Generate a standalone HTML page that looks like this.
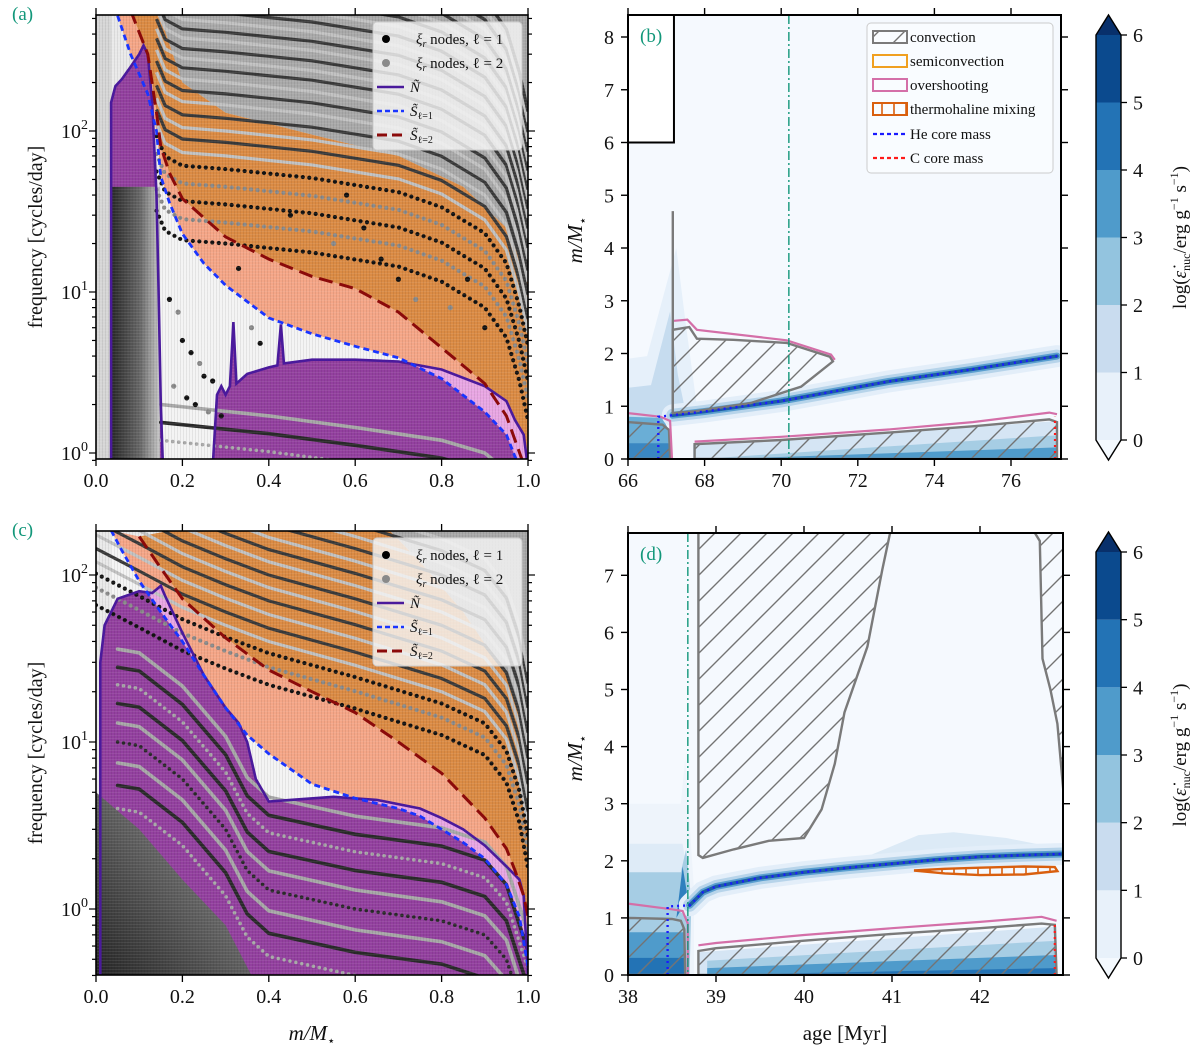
<!DOCTYPE html>
<html><head><meta charset="utf-8">
<style>body{margin:0;background:#fff}svg{display:block}text{font-family:"Liberation Serif","DejaVu Serif",serif;fill:#111}</style>
</head><body>
<svg id="fig" width="1200" height="1050" viewBox="0 0 1200 1050">
<defs>
<pattern id="hatch" patternUnits="userSpaceOnUse" width="26" height="26"><path d="M0,26L26,0M-6.5,6.5L6.5,-6.5M19.5,32.5L32.5,19.5" stroke="#737373" stroke-width="1.4"/></pattern>
<pattern id="thermo" patternUnits="userSpaceOnUse" width="12" height="40"><path d="M6,0V40" stroke="#d95f0e" stroke-width="1.6"/></pattern>
<pattern id="stripes" patternUnits="userSpaceOnUse" width="3" height="3"><rect x="0" y="0" width="1" height="3" fill="rgba(0,0,0,0.07)"/><rect x="0" y="0" width="3" height="0.6" fill="rgba(255,255,255,0.12)"/></pattern>
<linearGradient id="leftStrip" x1="0" x2="1" y1="0" y2="0"><stop offset="0" stop-color="#2a2a2a"/><stop offset="0.6" stop-color="#6a6a6a"/><stop offset="1" stop-color="#c8c8c8"/></linearGradient>
<linearGradient id="darkCorner" x1="0" x2="1" y1="1" y2="0"><stop offset="0" stop-color="#262626"/><stop offset="1" stop-color="#9a9a9a"/></linearGradient>
</defs>
</svg>
<script>
// ---------- Panel (a) data: [m/M, frequency] ----------
const aS1 = [[0.05,520],[0.08,300],[0.12,170],[0.14,100],[0.15,52],[0.17,36],[0.2,23],[0.25,15],[0.3,11],[0.4,6.9],[0.5,5.5],[0.6,4.6],[0.7,3.9],[0.8,2.9],[0.9,1.8],[0.95,1.3],[0.97,0.95],[0.985,0.8]];
const aS2 = [[0.08,560],[0.12,300],[0.14,130],[0.15,80],[0.17,55],[0.2,38],[0.3,22],[0.4,16],[0.5,12.5],[0.6,10.5],[0.7,7.5],[0.8,4.5],[0.9,2.7],[0.95,1.7],[0.99,0.85]];
const aNleft = [[0.035,0.8],[0.035,150],[0.045,190],[0.06,210],[0.08,250],[0.1,300],[0.11,340],[0.12,300],[0.13,150],[0.14,40],[0.145,10],[0.15,2],[0.155,0.8]];
const aNright = [[0.27,0.8],[0.28,2.3],[0.29,2.6],[0.3,2.3],[0.31,2.6],[0.318,6.5],[0.325,2.7],[0.35,3.1],[0.4,3.4],[0.42,3.5],[0.428,6.3],[0.435,3.6],[0.5,3.8],[0.6,3.8],[0.7,3.7],[0.8,3.3],[0.9,2.6],[0.95,2.1],[0.97,1.6],[0.99,1.3],[1.0,0.8]];
const aOrangeTop = [[0.14,600],[0.2,200],[0.3,130],[0.5,95],[0.7,70],[0.85,45],[0.95,25],[1.0,12]];
const aModeShape = [[0.14,1.6],[0.16,1.2],[0.2,1.05],[0.3,1.0],[0.5,0.88],[0.7,0.72],[0.8,0.58],[0.9,0.4],[0.95,0.26],[0.98,0.14],[1.0,0.08]];
const aModeLevels = [70,85,100,120,145,170,200,235,270,310,360,410,470,540,620,710,810,930,1070,1230,1420,1650];
const aNodeLevels = [20,27,35,45,58];
const aLowShape = [[0.15,1.0],[0.4,0.85],[0.6,0.72],[0.8,0.6],[0.9,0.5],[1.0,0.3]];
const aLowLevels = [1.2,1.55,2.0];
const aDotsX = [0.17,0.19,0.2,0.22,0.24,0.25,0.27,0.18,0.21,0.23,0.26,0.29,0.33,0.36,0.38,0.45,0.55,0.62,0.7,0.74,0.58,0.66,0.82,0.86,0.9];
const aDotsF = [9,7.5,5,4.2,3.6,3.0,2.8,2.6,2.2,2.0,1.8,1.7,14,6,4.8,30,20,25,12,9,40,16,8,12,6];

// ---------- Panel (c) data ----------
const cS1 = [[0.035,185],[0.06,140],[0.1,92],[0.15,60],[0.2,40],[0.25,25],[0.3,16],[0.35,11],[0.4,8.5],[0.5,5.6],[0.6,4.6],[0.7,4.0],[0.75,3.6],[0.8,3.0],[0.85,2.5],[0.9,2.0],[0.95,1.4],[0.98,0.9],[1.0,0.45]];
const cS2 = [[0.1,170],[0.15,110],[0.2,72],[0.3,42],[0.4,27],[0.5,20],[0.6,15],[0.7,10],[0.8,6.5],[0.9,3.5],[0.95,2.3],[0.97,1.7],[0.99,1.2],[1.0,0.9]];
const cN = [[0.01,0.4],[0.01,30],[0.02,50],[0.05,72],[0.1,80],[0.13,78],[0.15,86],[0.16,75],[0.2,45],[0.25,25],[0.3,16],[0.33,13],[0.35,10],[0.37,6],[0.4,4.4],[0.45,4.5],[0.55,4.7],[0.65,4.5],[0.75,4.0],[0.8,3.5],[0.85,3.0],[0.9,2.4],[0.95,1.8],[0.98,1.5],[0.99,1.2],[1.0,0.4]];
const cOrangeTop = [[0.04,300],[0.6,300],[0.75,120],[0.85,60],[0.95,25],[1.0,12]];
const cModeShape = [[0.0,3.0],[0.1,2.2],[0.2,1.6],[0.3,1.25],[0.4,1.0],[0.6,0.72],[0.8,0.5],[0.9,0.38],[0.95,0.26],[0.98,0.15],[1.0,0.08]];
const cModeLevels = [40,48,58,70,84,100,120,142,168,200,236,280,330];
const cNodeLevels = [22,28,34];
const cInShape = [[0.05,1.0],[0.1,0.95],[0.2,0.6],[0.3,0.3],[0.35,0.17],[0.4,0.13],[0.6,0.1],[0.8,0.085],[0.9,0.07],[0.95,0.05],[1.0,0.02]];
const cInLevels = [4,5.5,7.5,10,13,17,22,28,36];
const cDark = [[0,0.4],[0,5],[0.1,3],[0.2,1.5],[0.3,0.8],[0.36,0.4]];

// ---------- Panel (b) data: [age Myr, m/M] ----------
const bConvBlob = [[67.17,0.87],[67.17,2.45],[67.6,2.5],[67.8,2.28],[68.75,2.26],[70.14,2.2],[71.27,1.94],[71.35,1.85],[70.52,1.37],[69.2,1.06],[67.7,0.9]];
const bOverBlob = [[67.2,2.62],[67.55,2.64],[67.8,2.45],[70.14,2.25],[71.3,1.98],[71.4,1.88]];
const bSpike = [[67.17,0.87],[67.17,4.7]];
const bConvCore0 = [[66,0],[66,0.7],[66.9,0.65],[67.07,0.55],[67.1,0]];
const bOverCore0 = [[66,0.87],[66.85,0.8],[67.1,0.72],[67.15,0]];
const bConvCore = [[67.74,0],[67.74,0.28],[70,0.36],[72.8,0.5],[75,0.62],[77.0,0.75],[77.2,0.7],[77.2,0]];
const bOverCore = [[67.74,0.33],[70,0.42],[72.8,0.56],[75,0.7],[77.0,0.88],[77.2,0.85]];
const bHe = [[66.79,0],[66.79,0.8],[67.17,0.83],[68,0.9],[70,1.1],[72.8,1.47],[75,1.7],[77.2,1.95]];
const bC = [[77.15,0],[77.15,0.8]];
const bPlume1 = [[66,0.8],[66,1.9],[66.5,1.95],[67.26,4.0],[67.5,2.6],[67.8,1.0]];
const bPlume2 = [[66,0.7],[66,1.35],[66.6,1.4],[67.1,2.8],[67.3,1.6],[67.5,0.9]];
const bGreen = 70.2;

// ---------- Panel (d) data ----------
const dConvBig = [[38.8,7.75],[38.8,2.1],[38.85,2.05],[39.2,2.2],[39.6,2.35],[40.0,2.4],[40.2,2.9],[40.35,3.7],[40.46,4.6],[40.72,5.75],[40.89,7.1],[40.98,7.75]];
const dConvRight = [[42.62,7.75],[42.68,7.6],[42.71,5.54],[42.8,5.0],[42.88,4.4],[42.96,3.0],[42.96,7.75]];
const dConvCore0 = [[38,0],[38,1.0],[38.5,0.98],[38.6,0.95],[38.64,0.8],[38.65,0]];
const dOverCore0 = [[38,1.25],[38.5,1.15],[38.62,1.12],[38.68,0.9],[38.68,0]];
const dConvCore = [[38.8,0],[38.8,0.42],[39,0.47],[40,0.6],[41,0.72],[42,0.82],[42.7,0.9],[42.85,0.88],[42.87,0]];
const dOverCore = [[38.8,0.52],[39,0.56],[40,0.7],[41,0.82],[42,0.93],[42.7,1.02],[42.87,0.95]];
const dHe = [[38.45,0],[38.45,1.2],[38.7,1.22],[38.85,1.45],[39.0,1.55],[39.5,1.7],[40,1.8],[40.5,1.88],[41,1.95],[41.5,2.02],[42,2.07],[42.5,2.1],[42.96,2.12]];
const dC = [[42.85,0],[42.85,0.9]];
const dThermo = [[41.25,1.83],[41.6,1.86],[42,1.88],[42.5,1.9],[42.85,1.89],[42.88,1.82],[42.5,1.76],[42,1.75],[41.6,1.78]];
const dBump = [[40.6,2.0],[41.3,2.45],[41.7,2.5],[42.3,2.4],[42.96,2.2],[42.96,2.05]];
const dLeftBandTops = [3.0,2.3,1.8,0.75,0.3];
const dGreen = 38.68;

// ---------- colour bar ----------
const cbLevels = [0,1,2,3,4,5,6];
const cbColors = ['#e8f1fa','#c9dcef','#93c4df','#4f9bcb','#2373b5','#0b4a8e'];

const NS = "http://www.w3.org/2000/svg";
const svg = document.getElementById('fig');
function mk(tag, parent, attrs){const e=document.createElementNS(NS,tag);if(attrs)for(const k in attrs)e.setAttribute(k,attrs[k]);parent.appendChild(e);return e;}
function pd(pts,sx,sy,close){return pts.map((p,i)=>(i?'L':'M')+sx(p[0]).toFixed(1)+','+sy(p[1]).toFixed(1)).join('')+(close?'Z':'');}
const lg = Math.log10;

const xA = v=>96+v*432, yA = f=>453-161*lg(f);
const xC = v=>96+v*432, yC = f=>909-167*lg(f);
const xB = t=>628+(t-66)*38.3, yB = m=>459-52.75*m;
const xD = t=>628+(t-38)*88, yD = m=>975-57.1*m;

function clip(id,x,y,w,h){const c=mk('clipPath',svg.querySelector('defs'),{id:id});mk('rect',c,{x:x,y:y,width:w,height:h});}
clip('clipA',96,15,432,444);clip('clipC',96,531,432,444);clip('clipB',628,15,433,444);clip('clipD',628,533,435,442);

function txt(parent,x,y,s,size,anchor,extra){const t=mk('text',parent,Object.assign({x:x,y:y,'font-size':size,'text-anchor':anchor||'middle'},extra||{}));t.textContent=s;return t;}

function freqPanel(P){
  const g=mk('g',svg);
  
  
  const pg=mk('g',g,{'clip-path':'url(#'+P.clip+')'});
  const sx=P.sx, sy=P.sy, top=P.fmax, bot=P.fmin;
  const bg=mk('rect',pg,{x:96,y:P.y0,width:432,height:444,fill:'#e9e9e9'});
  
  
  const gr=mk('path',pg,{d:pd([[0.12,top]].concat(P.orangeTop).concat([[1,top]]),sx,sy,true),fill:'#a9a9a9'});
  
  
  if(P.leftStrip){
    const r2=mk('rect',pg,{x:96,y:P.y0,width:sx(0.035)-96,height:444,fill:'#d6d6d6'});
    
    }
  const s2=P.S2.filter(p=>p[1]<=top*1.2);
  const orTop=P.orangeTop.slice().reverse();
  const or=mk('path',pg,{d:pd(s2.concat([[1.0,bot]]).concat(orTop.filter(p=>p[0]>=s2[0][0]-0.02)),sx,sy,true),fill:'#db8b44'});
  
  
  const sa=mk('path',pg,{d:pd(P.S1.concat([[1.0,bot]]).concat(P.S2.slice().reverse()),sx,sy,true),fill:'#f5a687'});
  
  
  const wh=mk('path',pg,{d:pd(P.S1.filter(p=>p[0]>=P.whiteFrom).concat([[1.0,bot],[P.whiteFrom,bot]]),sx,sy,true),fill:'#f4f4f4'});
  
  
  const cid=P.clip+'S1';
  const cp=mk('clipPath',svg.querySelector('defs'),{id:cid});
  mk('path',cp,{d:pd([[0,top*2]].concat(P.S1).concat([[1.05,bot/2],[0,bot/2]]),sx,sy,true)});
  P.Ns.forEach((N,i)=>{
    const pk=mk('path',pg,{d:pd(N.concat([[N[N.length-1][0],bot/2],[N[0][0],bot/2]]),sx,sy,true),fill:'#e8a6e3'});
    
    
    const pu=mk('path',pg,{d:pd(N.concat([[N[N.length-1][0],bot/2],[N[0][0],bot/2]]),sx,sy,true),fill:'#93409f','clip-path':i===0&&P.leftStrip?'':'url(#'+cid+')'});
    
    
  });
  if(P.leftStrip){const r=mk('rect',pg,{x:sx(0.037),y:sy(45),width:sx(0.148)-sx(0.037),height:sy(bot)-sy(45),fill:'url(#leftStrip)'});
    
    }
  if(P.dark){const dk=mk('path',pg,{d:pd(P.dark,sx,sy,true),fill:'url(#darkCorner)'});
    
    }
  P.modeLevels.forEach((L,i)=>{
    const p=mk('path',pg,{d:pd(P.modeShape.map(q=>[q[0],L*q[1]]),sx,sy),fill:'none',stroke:i%2?'#3a3a3a':'#c2c2c2','stroke-width':3.2});
    
    
  });
  P.nodeLevels.forEach((L,i)=>{
    const p=mk('path',pg,{d:pd(P.modeShape.map(q=>[q[0],L*q[1]]),sx,sy),fill:'none',stroke:i%2?'#8a8a8a':'#111','stroke-width':4.2,'stroke-dasharray':'0 6.5','stroke-linecap':'round'});
    
    
  });
  P.inLevels.forEach((L,i)=>{
    const p=mk('path',pg,{d:pd(P.inShape.map(q=>[q[0],L*q[1]]),sx,sy),fill:'none',stroke:i%2?'#2a2a2a':'#a8a8a8','stroke-width':3.6,'stroke-dasharray':i%3===0?'0 6':'none','stroke-linecap':'round'});
    
    
  });
  if(P.dotsX){P.dotsX.forEach((x,i)=>{const c=mk('circle',pg,{cx:sx(x),cy:sy(P.dotsF[i]),r:2.6,fill:i%3===1?'#8a8a8a':'#111'});
    
    });}
  const st=mk('rect',pg,{x:96,y:P.y0,width:432,height:444,fill:'url(#stripes)'});
  
  
  P.Ns.forEach(N=>{const l=mk('path',pg,{d:pd(N,sx,sy),fill:'none',stroke:'#4a1a9c','stroke-width':2.6});
    
    });
  const l1=mk('path',pg,{d:pd(P.S1,sx,sy),fill:'none',stroke:'#1a35ff','stroke-width':2.8,'stroke-dasharray':'6 4'});
  
  
  const l2=mk('path',pg,{d:pd(P.S2,sx,sy),fill:'none',stroke:'#8b0a0a','stroke-width':3,'stroke-dasharray':'14 7'});
  
  
  const fr=mk('rect',g,{x:96,y:P.y0,width:432,height:444,fill:'none',stroke:'#000','stroke-width':1.6});
  
  
  [0,0.2,0.4,0.6,0.8,1.0].forEach(v=>{
    mk('line',g,{x1:sx(v),x2:sx(v),y1:P.y0+444,y2:P.y0+451,stroke:'#000','stroke-width':1.3});
    mk('line',g,{x1:sx(v),x2:sx(v),y1:P.y0,y2:P.y0-7,stroke:'#000','stroke-width':1.3});
    const t=txt(g,sx(v),P.y0+472,v.toFixed(1),20);
    
    
  });
  for(let d=-1;d<=3;d++){for(let k=1;k<10;k++){const f=k*Math.pow(10,d);if(f<bot||f>top)continue;const y=sy(f);const L=k===1?7:4;
    mk('line',g,{x1:96,x2:96-L,y1:y,y2:y,stroke:'#000','stroke-width':1.2});mk('line',g,{x1:528,x2:528+L,y1:y,y2:y,stroke:'#000','stroke-width':1.2});
    if(k===1){const t=txt(g,88,y+7,'10',20,'end');const s=mk('tspan',t,{dy:-9,'font-size':14});s.textContent=String(d);
      
      }}}
  const yl=txt(g,0,0,'frequency [cycles/day]',20,'middle',{transform:'translate(42,'+(P.y0+222)+') rotate(-90)'});
  
  
  const pl=txt(g,12,P.y0+5,P.label,19,'start',{style:'fill:#12977a'});
  
  
  const lgG=mk('g',g);
  
  
  const ly=P.y0+7;
  mk('rect',lgG,{x:373,y:ly,width:149,height:128,rx:4,fill:'rgba(245,245,245,0.82)',stroke:'#ccc'});
  const rows=[ly+17,ly+41,ly+65,ly+89,ly+113];
  mk('circle',lgG,{cx:386,cy:rows[0],r:4,fill:'#000'});
  mk('circle',lgG,{cx:386,cy:rows[1],r:4,fill:'#8a8a8a'});
  mk('line',lgG,{x1:377,x2:404,y1:rows[2],y2:rows[2],stroke:'#4a1a9c','stroke-width':2.6});
  mk('line',lgG,{x1:377,x2:404,y1:rows[3],y2:rows[3],stroke:'#1a35ff','stroke-width':2.6,'stroke-dasharray':'5 3'});
  mk('line',lgG,{x1:377,x2:404,y1:rows[4],y2:rows[4],stroke:'#8b0a0a','stroke-width':3,'stroke-dasharray':'10 5'});
  [['ξ','r',' nodes, ℓ = 1'],['ξ','r',' nodes, ℓ = 2']].forEach((r,i)=>{const t=txt(lgG,416,rows[i]+5,'',15,'start');
    const a=mk('tspan',t,{'font-style':'italic'});a.textContent=r[0];const b=mk('tspan',t,{'font-size':10,dy:3,'font-style':'italic'});b.textContent=r[1];const c=mk('tspan',t,{dy:-3});c.textContent=r[2];});
  txt(lgG,410,rows[2]+5,'Ñ',15,'start',{'font-style':'italic'});
  [['1',3],['2',4]].forEach(r=>{const t=txt(lgG,410,rows[r[1]]+5,'',15,'start');const a=mk('tspan',t,{'font-style':'italic'});a.textContent='S̃';const b=mk('tspan',t,{'font-size':10,dy:3});b.textContent='ℓ='+r[0];});
}
freqPanel({name:'panel-a',clip:'clipA',y0:15,sx:xA,sy:yA,fmax:540,fmin:0.9,label:'(a)',S1:aS1,S2:aS2,Ns:[aNleft,aNright],orangeTop:aOrangeTop,modeShape:aModeShape,modeLevels:aModeLevels,nodeLevels:aNodeLevels,inShape:aLowShape,inLevels:aLowLevels,leftStrip:true,whiteFrom:0.15,dotsX:aDotsX,dotsF:aDotsF});
freqPanel({name:'panel-c',clip:'clipC',y0:531,sx:xC,sy:yC,fmax:184,fmin:0.4,label:'(c)',S1:cS1,S2:cS2,Ns:[cN],orangeTop:cOrangeTop,modeShape:cModeShape,modeLevels:cModeLevels,nodeLevels:cNodeLevels,inShape:cInShape,inLevels:cInLevels,leftStrip:false,whiteFrom:0.03,dark:cDark});
{const t=txt(svg,312,1040,'',21,'middle');const a=mk('tspan',t,{'font-style':'italic'});a.textContent='m/M';const b=mk('tspan',t,{'font-size':13,dy:5});b.textContent='⋆';
 
 }

function kipPanel(K){
  const g=mk('g',svg);
  
  
  const pg=mk('g',g,{'clip-path':'url(#'+K.clip+')'});
  const sx=K.sx, sy=K.sy;
  const bg=mk('rect',pg,{x:628,y:K.y0,width:K.w,height:K.h,fill:'#f5f9fe'});
  
  
  K.fills.forEach(f=>{const p=mk('path',pg,{d:pd(f[0],sx,sy,true),fill:f[1]});
    
    });
  [[22,'#e3eef9'],[13,'#b7d4ea'],[7,'#5a9fd0'],[3.5,'#1c5ea4']].forEach(b=>{const p=mk('path',pg,{d:pd(K.he.slice(2),sx,sy),fill:'none',stroke:b[1],'stroke-width':b[0],'stroke-linecap':'round'});
    
    });
  K.convs.forEach(c=>{const p=mk('path',pg,{d:pd(c,sx,sy,true),fill:'url(#hatch)',stroke:'#7a7a7a','stroke-width':2.4});
    
    });
  if(K.spike){const p=mk('path',pg,{d:pd(K.spike,sx,sy),stroke:'#7a7a7a','stroke-width':2.4,fill:'none'});
    
    }
  K.overs.forEach(c=>{const p=mk('path',pg,{d:pd(c,sx,sy),fill:'none',stroke:'#d46fa8','stroke-width':2.2});
    
    });
  if(K.thermo){const p=mk('path',pg,{d:pd(K.thermo,sx,sy,true),fill:'url(#thermo)',stroke:'#d95f0e','stroke-width':2.4});
    
    }
  const he=mk('path',pg,{d:pd(K.he,sx,sy),fill:'none',stroke:'#1a1aff','stroke-width':2.4,'stroke-dasharray':'2 4'});
  
  
  const cc=mk('path',pg,{d:pd(K.c,sx,sy),fill:'none',stroke:'#ff1a1a','stroke-width':2.2,'stroke-dasharray':'2 4'});
  
  
  const gl=mk('line',pg,{x1:sx(K.green),x2:sx(K.green),y1:K.y0,y2:K.y0+K.h,stroke:'#12977a','stroke-width':1.4,'stroke-dasharray':'9 3 2 3'});
  
  
  if(K.whiteBox){const w=mk('rect',g,{x:628,y:K.y0,width:sx(67.2)-628,height:sy(6)-K.y0,fill:'#fff',stroke:'#000','stroke-width':2});
    
    }
  const fr=mk('rect',g,{x:628,y:K.y0,width:K.w,height:K.h,fill:'none',stroke:'#000','stroke-width':2});
  
  
  K.xt.forEach(v=>{mk('line',g,{x1:sx(v),x2:sx(v),y1:K.y0+K.h,y2:K.y0+K.h+7,stroke:'#000','stroke-width':1.4});
    mk('line',g,{x1:sx(v),x2:sx(v),y1:K.y0,y2:K.y0-7,stroke:'#000','stroke-width':1.4});
    const t=txt(g,sx(v),K.y0+K.h+28,String(v),20);
    
    });
  K.yt.forEach(v=>{const y=sy(v);mk('line',g,{x1:628,x2:621,y1:y,y2:y,stroke:'#000','stroke-width':1.4});mk('line',g,{x1:628+K.w,x2:635+K.w,y1:y,y2:y,stroke:'#000','stroke-width':1.4});
    const t=txt(g,614,y+7,String(v),20,'end');
    
    });
  const yl=txt(g,0,0,'',21,'middle',{transform:'translate(582,'+(K.y0+225)+') rotate(-90)'});
  const a=mk('tspan',yl,{'font-style':'italic'});a.textContent='m/M';const b=mk('tspan',yl,{'font-size':13,dy:5});b.textContent='⋆';
  
  
  const pl=txt(g,640,K.y0+27,K.label,19,'start',{style:'fill:#12977a'});
  
  
  const cb=mk('g',g);
  
  
  const cx0=1096,cw=25,cy6=K.cb6,cy0=K.cb0,u=(cy0-cy6)/6;
  const cyv=v=>cy0-v*u;
  mk('path',cb,{d:`M${cx0},${cy6}L${cx0+cw/2},${cy6-20}L${cx0+cw},${cy6}Z`,fill:'#08306b'});
  mk('path',cb,{d:`M${cx0},${cy0}L${cx0+cw/2},${cy0+20}L${cx0+cw},${cy0}Z`,fill:'#f4f9fe'});
  cbColors.forEach((c,i)=>{mk('rect',cb,{x:cx0,y:cyv(cbLevels[i+1]),width:cw,height:cyv(cbLevels[i])-cyv(cbLevels[i+1]),fill:c});});
  mk('path',cb,{d:`M${cx0},${cy6}L${cx0+cw/2},${cy6-20}L${cx0+cw},${cy6}L${cx0+cw},${cy0}L${cx0+cw/2},${cy0+20}L${cx0},${cy0}Z`,fill:'none',stroke:'#000','stroke-width':1.4});
  cbLevels.forEach(v=>{mk('line',cb,{x1:cx0+cw,x2:cx0+cw+6,y1:cyv(v),y2:cyv(v),stroke:'#000','stroke-width':1.3});
    const t=txt(cb,cx0+cw+12,cyv(v)+7,String(v),20,'start');
    
    });
  const ct=txt(cb,0,0,'',19,'middle',{transform:`translate(1186,${(cy0+cy6)/2}) rotate(-90)`});
  const parts=[['log(',{}],['ε̇',{'font-style':'italic'}],['nuc',{'font-size':12,dy:4}],['/erg g',{dy:-4}],['−1',{'font-size':12,dy:-8}],[' s',{dy:8}],['−1',{'font-size':12,dy:-8}],[')',{dy:8}]];
  parts.forEach(p=>{const s=mk('tspan',ct,p[1]);s.textContent=p[0];});
  
  
}
const bFills=[[bPlume1,'#e6f0fa'],[bPlume2,'#c6dcef'],[[[66,0],[66,0.8],[66.9,0.78],[67.1,0.5],[67.15,0]],'#6aaed6'],[[[66,0],[66,0.3],[67.1,0.3],[67.1,0]],'#3a87c2'],
  [[[67.7,0],[67.7,0.27],[72,0.45],[77.2,0.72],[77.2,0]],'#d5e5f4'],[[[67.9,0],[72,0.2],[77.2,0.45],[77.2,0]],'#a6cde4'],[[[68.5,0],[77.2,0.22],[77.2,0]],'#4f9bcb']];
kipPanel({name:'panel-b',clip:'clipB',y0:15,w:433,h:444,sx:xB,sy:yB,label:'(b)',fills:bFills,he:bHe,c:bC,convs:[bConvCore0,bConvBlob,bConvCore],spike:bSpike,overs:[bOverCore0,bOverBlob,bOverCore],green:bGreen,whiteBox:true,xt:[66,68,70,72,74,76],yt:[0,1,2,3,4,5,6,7,8],cb6:35,cb0:440});
const dFills=[[[[38,0],[38,dLeftBandTops[0]],[38.6,dLeftBandTops[0]],[38.65,3.8],[38.75,1.5],[38.75,0]],'#eef4fb'],[[[38,0],[38,dLeftBandTops[1]],[38.62,dLeftBandTops[1]],[38.7,1.5],[38.7,0]],'#deebf7'],
  [[[38,0],[38,dLeftBandTops[2]],[38.6,dLeftBandTops[2]],[38.66,2.2],[38.72,1.3],[38.7,0]],'#a6cde4'],[[[38,0],[38,dLeftBandTops[3]],[38.65,0.75],[38.65,0]],'#4f9bcb'],[[[38,0],[38,dLeftBandTops[4]],[38.65,0.3],[38.65,0]],'#2373b5'],
  [[[38.55,1.0],[38.62,1.9],[38.68,1.35]],'#2f7fbe'],[dBump,'#dceaf6'],
  [[[38.8,0],[38.8,0.4],[42.87,0.85],[42.87,0]],'#d5e5f4'],[[[38.9,0],[38.9,0.25],[42.87,0.6],[42.87,0]],'#a6cde4'],[[[38.9,0],[38.9,0.12],[42.87,0.35],[42.87,0]],'#4f9bcb'],[[[38.9,0],[42.87,0.12],[42.87,0]],'#2373b5']];
kipPanel({name:'panel-d',clip:'clipD',y0:533,w:435,h:442,sx:xD,sy:yD,label:'(d)',fills:dFills,he:dHe,c:dC,convs:[dConvCore0,dConvBig,dConvRight,dConvCore],overs:[dOverCore0,dOverCore],thermo:dThermo,green:dGreen,xt:[38,39,40,41,42],yt:[0,1,2,3,4,5,6,7],cb6:552,cb0:958});
{const t=txt(svg,845,1040,'age [Myr]',21,'middle');
 
 }

{const g=mk('g',svg);
 
 
 mk('rect',g,{x:867,y:23,width:186,height:150,rx:4,fill:'rgba(250,252,255,0.9)',stroke:'#ccc'});
 const rows=[37,61,85,109,134,158];
 mk('rect',g,{x:873,y:rows[0]-6,width:34,height:12,fill:'url(#hatch)',stroke:'#7a7a7a','stroke-width':2});
 mk('rect',g,{x:873,y:rows[1]-6,width:34,height:12,fill:'none',stroke:'#f0a020','stroke-width':2});
 mk('rect',g,{x:873,y:rows[2]-6,width:34,height:12,fill:'none',stroke:'#d46fa8','stroke-width':2});
 mk('rect',g,{x:873,y:rows[3]-6,width:34,height:12,fill:'url(#thermo)',stroke:'#d95f0e','stroke-width':2});
 mk('line',g,{x1:873,x2:907,y1:rows[4],y2:rows[4],stroke:'#1a1aff','stroke-width':2.2,'stroke-dasharray':'4 3'});
 mk('line',g,{x1:873,x2:907,y1:rows[5],y2:rows[5],stroke:'#ff1a1a','stroke-width':2.2,'stroke-dasharray':'4 3'});
 ['convection','semiconvection','overshooting','thermohaline mixing','He core mass','C core mass'].forEach((s,i)=>{const t=txt(g,910,rows[i]+5,s,15,'start');
   
   });}
</script>
</body></html>
